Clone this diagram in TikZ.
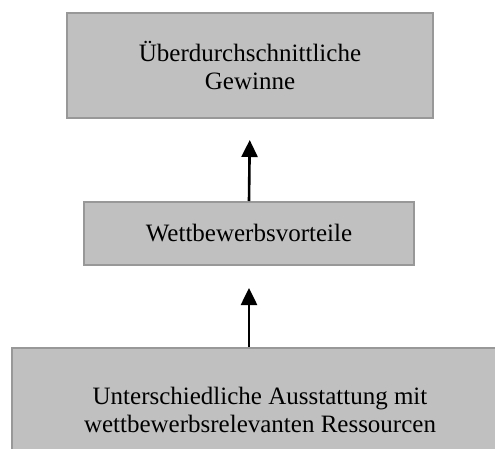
\documentclass[tikz,border=0pt]{standalone}
\usepackage{fontspec}
\setmainfont{Liberation Serif}
\usetikzlibrary{arrows.meta}
\definecolor{boxfill}{HTML}{C0C0C0}
\definecolor{boxline}{HTML}{989898}

\begin{document}
\begin{tikzpicture}[x=1pt, y=-1pt,
	box/.style={draw=boxline, fill=boxfill, line width=2pt, align=center, inner sep=0pt,
		font=\fontsize{25}{28}\selectfont},
	up/.style={line width=2.6pt, -{Triangle[width=16pt,length=17pt]}}]
	\useasboundingbox (0,0) rectangle (495,448);
	\clip (0,0) rectangle (495,448);
	\node[box, minimum width=366pt, minimum height=105pt] (gewinne) at (250,65.5) {Überdurchschnittliche\\Gewinne};
	\node[box, minimum width=330pt, minimum height=63pt] (vorteile) at (249,233.5) {Wettbewerbsvorteile};
	\node[box, minimum width=496pt, minimum height=124pt] (ressourcen) at (260,410) {Unterschiedliche Ausstattung mit\\wettbewerbsrelevanten Ressourcen};
	\draw[up, shorten >=21pt] (vorteile.north) -- (gewinne.south); %
	\draw[up, shorten >=22pt] (vorteile.south |- ressourcen.north) -- (vorteile.south);%
\end{tikzpicture}
\end{document}
